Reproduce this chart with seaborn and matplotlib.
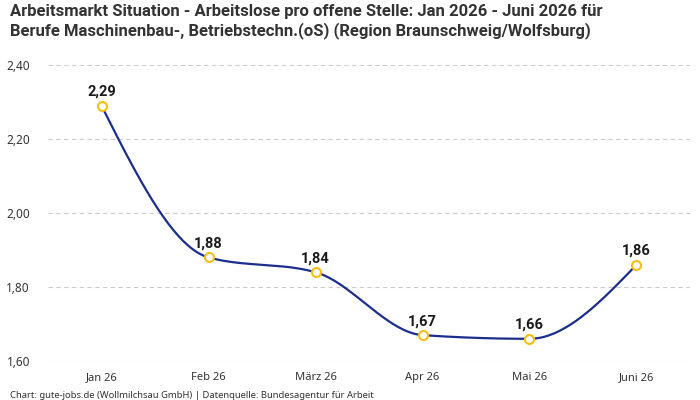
import numpy as np
import pandas as pd
import seaborn as sns
import matplotlib
matplotlib.use("Agg")
import matplotlib.pyplot as plt

months = ["Jan 26", "Feb 26", "März 26", "Apr 26", "Mai 26", "Juni 26"]
values = [2.29, 1.88, 1.84, 1.67, 1.66, 1.86]
labels = ["2,29", "1,88", "1,84", "1,67", "1,66", "1,86"]
yticks = [1.60, 1.80, 2.00, 2.20, 2.40]
ytick_labels = ["1,60", "1,80", "2,00", "2,20", "2,40"]

title = ("Arbeitsmarkt Situation - Arbeitslose pro offene Stelle: Jan 2026 - Juni 2026 für\n"
         "Berufe Maschinenbau-, Betriebstechn.(oS) (Region Braunschweig/Wolfsburg)")
footer = "Chart: gute-jobs.de (Wollmilchsau GmbH) | Datenquelle: Bundesagentur für Arbeit"

sns.set_theme(style="white")
plt.rcParams['font.family'] = ['Noto Sans', 'DejaVu Sans']


def monotone_curve(x, y, n=40):
    x = np.asarray(x, float); y = np.asarray(y, float)
    h = np.diff(x); s = np.diff(y) / h
    m = np.zeros_like(y)
    for i in range(1, len(y) - 1):
        p = (s[i - 1] * h[i] + s[i] * h[i - 1]) / (h[i - 1] + h[i])
        m[i] = (np.sign(s[i - 1]) + np.sign(s[i])) * min(abs(s[i - 1]), abs(s[i]), 0.5 * abs(p))
    m[0] = (3 * s[0] - m[1]) / 2
    m[-1] = (3 * s[-1] - m[-2]) / 2
    xs, ys = [], []
    for i in range(len(h)):
        t = np.linspace(0, 1, n, endpoint=(i == len(h) - 1))
        h00 = 2 * t**3 - 3 * t**2 + 1
        h10 = t**3 - 2 * t**2 + t
        h01 = -2 * t**3 + 3 * t**2
        h11 = t**3 - t**2
        xs.append(x[i] + t * h[i])
        ys.append(h00 * y[i] + h10 * h[i] * m[i] + h01 * y[i + 1] + h11 * h[i] * m[i + 1])
    return np.concatenate(xs), np.concatenate(ys)


df = pd.DataFrame({"month": months, "value": values, "pos": np.arange(len(months))})
cx, cy = monotone_curve(df["pos"], df["value"])
curve = pd.DataFrame({"x": cx, "y": cy})

fig = plt.figure(figsize=(7, 4), dpi=100)
ax = fig.add_axes([0.0686, 0.0975, 0.9171, 0.74])

sns.lineplot(data=curve, x="x", y="y", ax=ax, color="#1c2e8c", linewidth=1.6, zorder=2)
sns.scatterplot(data=df, x="pos", y="value", ax=ax, s=42, facecolor="white",
                edgecolor="#f5c015", linewidth=1.5, zorder=3)

for p, v, lab in zip(df["pos"], df["value"], labels):
    ax.annotate(lab, (p, v), xytext=(0, 5), textcoords="offset points",
                ha="center", va="bottom", fontsize=10.5, fontweight="bold", color="#1a1a1a",
                family=['Roboto', 'DejaVu Sans'])

ax.set_xlim(-0.5, len(months) - 0.5)
ax.set_ylim(1.60, 2.40)
ax.set_xticks(df["pos"])
ax.set_xticklabels(months, fontsize=8, color="#333333")
ax.set_yticks(yticks)
ax.set_yticklabels(ytick_labels, fontsize=8.5, color="#333333")
ax.tick_params(axis="both", length=0, pad=8)
ax.tick_params(axis="y", pad=13)
ax.yaxis.grid(True, color="#cccccc", linestyle=(0, (4, 3)), linewidth=0.8)
ax.xaxis.grid(False)
ax.set_xlabel("")
ax.set_ylabel("")
for sp in ax.spines.values():
    sp.set_visible(False)

fig.text(0.014, 0.99, title, ha="left", va="top", fontsize=12, fontweight="bold",
         color="#333333", linespacing=1.2, family=['Roboto', 'DejaVu Sans'])
fig.text(0.014, 0.0, footer, ha="left", va="bottom", fontsize=6.8, color="#333333")

fig.savefig("out.png", dpi=100)
